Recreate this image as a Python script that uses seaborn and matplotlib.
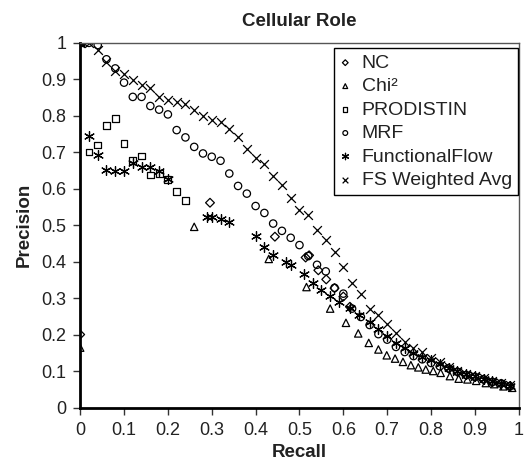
import numpy as np
import pandas as pd
import matplotlib
matplotlib.use("Agg")
import matplotlib.pyplot as plt
import seaborn as sns

sns.set_theme(style="white")
plt.rcParams['font.family'] = ['Liberation Sans', 'DejaVu Sans']

# ---- data ----
passo = [round(0.02 * k, 2) for k in range(50)]

fs_recall = passo
fs_prec = [1.0, 1.0, 0.98, 0.948, 0.922, 0.915, 0.898, 0.884, 0.877, 0.852,
           0.843, 0.838, 0.833, 0.816, 0.801, 0.789, 0.783, 0.765, 0.741, 0.708,
           0.685, 0.668, 0.636, 0.611, 0.575, 0.542, 0.528, 0.487, 0.459, 0.428,
           0.386, 0.342, 0.313, 0.272, 0.254, 0.229, 0.205, 0.181, 0.165, 0.153,
           0.138, 0.126, 0.112, 0.101, 0.092, 0.087, 0.083, 0.074, 0.067, 0.062]

mrf_recall = passo
mrf_prec = [1.0, 1.0, 0.994, 0.955, 0.93, 0.891, 0.852, 0.852, 0.827, 0.817,
            0.804, 0.761, 0.741, 0.715, 0.697, 0.688, 0.677, 0.642, 0.608, 0.587,
            0.553, 0.534, 0.505, 0.485, 0.466, 0.446, 0.416, 0.392, 0.374, 0.329,
            0.313, 0.272, 0.249, 0.227, 0.202, 0.187, 0.167, 0.153, 0.142, 0.133,
            0.123, 0.114, 0.108, 0.099, 0.09, 0.085, 0.078, 0.071, 0.067, 0.059]

chi_recall = [0.0, 0.26, 0.43, 0.516, 0.57, 0.606, 0.634, 0.658, 0.68, 0.699,
              0.718, 0.736, 0.754, 0.771, 0.788, 0.805, 0.822, 0.843, 0.863, 0.883,
              0.903, 0.925, 0.944, 0.965, 0.985]
chi_prec = [0.165, 0.496, 0.408, 0.331, 0.272, 0.233, 0.204, 0.178, 0.16, 0.144,
            0.135, 0.126, 0.117, 0.111, 0.105, 0.101, 0.096, 0.087, 0.08, 0.078,
            0.074, 0.068, 0.065, 0.059, 0.055]

nc_recall = [0.0, 0.296, 0.444, 0.514, 0.522, 0.543, 0.561, 0.58, 0.6, 0.615,
             0.84, 0.86, 0.88, 0.9, 0.92, 0.94, 0.96, 0.98]
nc_prec = [0.201, 0.562, 0.469, 0.412, 0.418, 0.377, 0.352, 0.328, 0.305, 0.277,
           0.108, 0.099, 0.09, 0.085, 0.078, 0.071, 0.066, 0.06]

prod_recall = [0.0, 0.02, 0.04, 0.06, 0.08, 0.10, 0.12, 0.14, 0.16, 0.18, 0.20, 0.22, 0.24]
prod_prec = [1.0, 0.701, 0.72, 0.773, 0.793, 0.724, 0.677, 0.69, 0.638, 0.642,
             0.626, 0.592, 0.569]

ff_recall = [0.0, 0.02, 0.04, 0.06, 0.08, 0.10, 0.12, 0.14, 0.16, 0.18, 0.20,
             0.29, 0.30, 0.32, 0.34, 0.40, 0.42, 0.44, 0.47, 0.48, 0.51, 0.53,
             0.55, 0.57, 0.59, 0.615, 0.635, 0.66, 0.68, 0.70, 0.72, 0.74, 0.76,
             0.78, 0.80, 0.82, 0.84, 0.86, 0.88, 0.90, 0.92, 0.94, 0.96, 0.98]
ff_prec = [1.0, 0.744, 0.692, 0.653, 0.649, 0.649, 0.67, 0.66, 0.66, 0.649, 0.628,
           0.523, 0.523, 0.517, 0.508, 0.471, 0.44, 0.419, 0.401, 0.392, 0.366, 0.342,
           0.322, 0.306, 0.29, 0.273, 0.254, 0.235, 0.215, 0.196, 0.178, 0.163, 0.15,
           0.14, 0.13, 0.12, 0.11, 0.1, 0.092, 0.086, 0.08, 0.073, 0.066, 0.06]

rotulos = ["0", "0.1", "0.2", "0.3", "0.4", "0.5", "0.6", "0.7", "0.8", "0.9", "1"]

# ---- figure ----
fig = plt.figure(figsize=(5.24, 4.71), dpi=100)
ax = fig.add_axes([0.153, 0.134, 0.837, 0.775])

asterisco = (6, 2, 0)
series = [
    ("NC", nc_recall, nc_prec, "D", 20, True),
    ("Chi²", chi_recall, chi_prec, "^", 28, True),
    ("PRODISTIN", prod_recall, prod_prec, "s", 24, True),
    ("MRF", mrf_recall, mrf_prec, "o", 28, True),
    ("FunctionalFlow", ff_recall, ff_prec, asterisco, 50, False),
    ("FS Weighted Avg", fs_recall, fs_prec, "x", 40, False),
]

for nome, xs, ys, mk, tam, oco in series:
    df = pd.DataFrame({"Recall": xs, "Precision": ys})
    if oco:
        sns.scatterplot(data=df, x="Recall", y="Precision", marker=mk, s=tam,
                        facecolor="none", edgecolor="black", linewidth=0.9,
                        label=nome, ax=ax)
    else:
        sns.scatterplot(data=df, x="Recall", y="Precision", marker=mk, s=tam,
                        color="black", linewidth=0.9, label=nome, ax=ax)

ax.set_xlim(0, 1)
ax.set_ylim(0, 1)
ax.set_xticks(np.arange(0, 1.01, 0.1))
ax.set_yticks(np.arange(0, 1.01, 0.1))
ax.set_xticklabels(rotulos)
ax.set_yticklabels(rotulos)
ax.tick_params(axis="both", which="major", labelsize=13, direction="out",
               length=5, width=1, color="#333333", bottom=True, left=True, pad=5,
               labelcolor="#222222")

for lado in ["left", "bottom"]:
    ax.spines[lado].set_color("black")
    ax.spines[lado].set_linewidth(2)
for lado in ["top", "right"]:
    ax.spines[lado].set_color("#555555")
    ax.spines[lado].set_linewidth(1)

ax.set_title("Cellular Role", fontsize=13.5, fontweight="bold", pad=12, color="#222222")
ax.set_xlabel("Recall", fontsize=13.5, fontweight="bold", labelpad=4, color="#222222")
ax.set_ylabel("Precision", fontsize=13.5, fontweight="bold", labelpad=6, color="#222222")

leg = ax.legend(loc="upper right", bbox_to_anchor=(0.998, 0.985), fontsize=14,
                frameon=True, fancybox=False, edgecolor="black", framealpha=1,
                handletextpad=0.55, borderpad=0.3, labelspacing=0.3,
                handlelength=0.6, markerscale=0.65, borderaxespad=0.0)
leg.get_frame().set_linewidth(1)
for t in leg.get_texts():
    t.set_color("#222222")

fig.savefig("out.png", dpi=100)
